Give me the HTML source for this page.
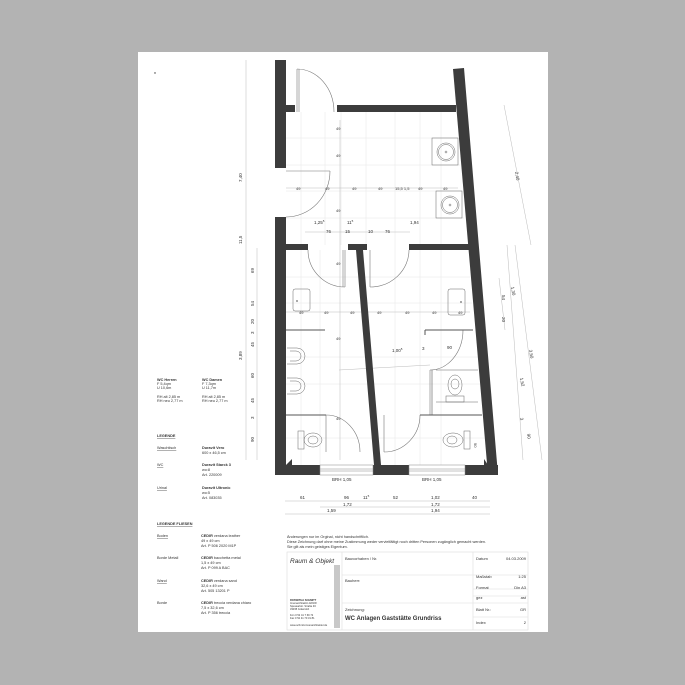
<!DOCTYPE html>
<html><head><meta charset="utf-8"><style>
html,body{margin:0;padding:0;background:#b3b3b3}
svg{display:block}
text{font-family:"Liberation Sans",sans-serif;fill:#333}
</style></head><body>
<svg width="685" height="685" viewBox="0 0 685 685" xmlns="http://www.w3.org/2000/svg">
<rect x="0" y="0" width="685" height="685" fill="#b3b3b3"/>
<rect x="138" y="52" width="410" height="580" fill="#fff"/>
<circle cx="155" cy="73" r="0.7" fill="#333"/>

<!-- tile grid -->
<g stroke="#e6e6e6" stroke-width="0.5">
<line x1="301" y1="112" x2="301" y2="465"/><line x1="325" y1="112" x2="325" y2="245"/>
<line x1="341" y1="112" x2="341" y2="245"/><line x1="366" y1="112" x2="366" y2="245"/>
<line x1="395" y1="112" x2="395" y2="465"/><line x1="420" y1="112" x2="420" y2="465"/>
<line x1="441" y1="112" x2="441" y2="465"/><line x1="320" y1="250" x2="320" y2="465"/>
<line x1="286" y1="138" x2="458" y2="138"/><line x1="286" y1="165" x2="460" y2="165"/>
<line x1="286" y1="191" x2="462" y2="191"/><line x1="286" y1="218" x2="464" y2="218"/>
<line x1="286" y1="277" x2="470" y2="277"/><line x1="286" y1="303" x2="472" y2="303"/>
<line x1="286" y1="357" x2="478" y2="357"/><line x1="286" y1="384" x2="480" y2="384"/>
<line x1="286" y1="438" x2="486" y2="438"/>
</g>
<!-- internal dimension lines -->
<g stroke="#bbb" stroke-width="0.5">
<line x1="286" y1="188" x2="458" y2="188"/>
<line x1="305" y1="232" x2="410" y2="232"/>
<line x1="286" y1="312" x2="470" y2="312"/>
<line x1="339" y1="370" x2="430" y2="365"/>
<line x1="340" y1="120" x2="340" y2="460"/>
</g>
<g font-size="4" fill="#555">
<text x="296" y="190">49</text><text x="325" y="190">49</text><text x="352" y="190">49</text><text x="378" y="190">49</text><text x="395" y="190">15,5 1,5</text><text x="418" y="190">49</text><text x="443" y="190">49</text>
<text x="299" y="314">49</text><text x="324" y="314">49</text><text x="350" y="314">49</text><text x="377" y="314">49</text><text x="405" y="314">49</text><text x="432" y="314">49</text><text x="458" y="314">49</text>
<text x="336" y="130">49</text><text x="336" y="157">49</text><text x="336" y="212">49</text><text x="336" y="265">49</text><text x="336" y="340">49</text><text x="336" y="420">49</text>
</g>
<g font-size="4.5" fill="#333">
<text x="314" y="224">1,25<tspan font-size="3" dy="-2">5</tspan></text>
<text x="347" y="224">11<tspan font-size="3" dy="-2">5</tspan></text>
<text x="410" y="224">1,94</text>
<text x="326" y="233">76</text><text x="345" y="233">15</text><text x="368" y="233">10</text><text x="385" y="233">76</text>
<text x="392" y="352">1,00<tspan font-size="3" dy="-2">5</tspan></text>
<text x="422" y="350">3</text><text x="447" y="349">90</text>
</g>

<!-- walls -->
<g fill="#3c3c3c">
<rect x="275" y="60" width="11" height="108"/>
<rect x="275" y="217" width="11" height="258"/>
<rect x="286" y="105" width="9" height="7"/>
<rect x="337" y="105" width="119" height="7"/>
<polygon points="453,69 464,68 498,475 488,475"/>
<rect x="286" y="244" width="22" height="6"/>
<rect x="348" y="244" width="19" height="6"/>
<rect x="409" y="244" width="62" height="6"/>
<polygon points="356,250 363,250 381,465 374,465"/>
<polygon points="275,465 320,465 320,475 275,475"/>
<polygon points="373,465 409,465 409,475 373,475"/>
<polygon points="465,465 498,465 498,475 465,475"/>
<polygon points="286,465 292,459 292,465"/>
<polygon points="488,465 484,459 484,465"/>
</g>
<!-- windows -->
<g stroke="#888" stroke-width="0.5" fill="none">
<rect x="320" y="465" width="53" height="10"/><line x1="320" y1="469" x2="373" y2="469"/><line x1="320" y1="471" x2="373" y2="471"/>
<rect x="409" y="465" width="56" height="10"/><line x1="409" y1="469" x2="465" y2="469"/><line x1="409" y1="471" x2="465" y2="471"/>
</g>
<text x="332" y="481" font-size="4.5">BRH 1,05</text>
<text x="422" y="481" font-size="4.5">BRH 1,05</text>

<!-- doors -->
<g stroke="#777" stroke-width="0.6" fill="none">
<line x1="297" y1="69" x2="297" y2="112"/><line x1="299" y1="69" x2="299" y2="112"/>
<path d="M297,69 A37,43 0 0 1 334,112"/>
<line x1="286" y1="171" x2="330" y2="171"/>
<path d="M330,171 A44,46 0 0 1 286,217"/>
<line x1="345" y1="250" x2="345" y2="287"/><line x1="343" y1="250" x2="343" y2="287"/>
<path d="M308,250 A37,37 0 0 0 345,287"/>
<line x1="370" y1="250" x2="370" y2="287"/>
<path d="M409,250 A39,37 0 0 1 370,287"/>
<line x1="326" y1="415" x2="326" y2="452"/>
<path d="M326,415 A34,37 0 0 1 360,452"/>
<line x1="384" y1="415" x2="384" y2="452"/>
<path d="M420,415 A36,37 0 0 1 384,452"/>
<line x1="430" y1="370" x2="430" y2="415"/>
<path d="M463,330 A33,40 0 0 1 430,370"/>
</g>
<!-- partitions -->
<g stroke="#555" stroke-width="1" fill="none">
<line x1="286" y1="330" x2="325" y2="330"/>
<line x1="286" y1="415" x2="326" y2="415"/>
<line x1="425" y1="330" x2="473" y2="330"/>
<line x1="425" y1="330" x2="425" y2="335"/>
<line x1="420" y1="415" x2="482" y2="415"/>
<line x1="432" y1="370" x2="432" y2="415" stroke-width="0.6"/>
</g>
<!-- fixtures -->
<g stroke="#666" stroke-width="0.5" fill="none">
<rect x="432" y="138" width="26" height="27"/><circle cx="446" cy="152" r="9"/><circle cx="446" cy="152" r="7.5"/><circle cx="446" cy="152" r="1"/>
<rect x="436" y="191" width="26" height="27"/><circle cx="450" cy="205" r="9"/><circle cx="450" cy="205" r="7.5"/><circle cx="450" cy="205" r="1"/>
<rect x="293" y="289" width="17" height="22" rx="2"/><circle cx="297" cy="301" r="0.8"/>
<rect x="448" y="289" width="17" height="26" rx="2"/><circle cx="461" cy="302" r="0.8"/>
<path d="M287,348 L297,348 A8,8 0 0 1 297,364 L287,364"/><path d="M290,351 L296,351 A5,5 0 0 1 296,361 L290,361"/>
<path d="M287,378 L297,378 A8,8 0 0 1 297,394 L287,394"/><path d="M290,381 L296,381 A5,5 0 0 1 296,391 L290,391"/>
<rect x="298" y="431" width="6" height="18"/><ellipse cx="313" cy="440" rx="9" ry="7"/><ellipse cx="313" cy="440" rx="5" ry="4"/>
<rect x="464" y="431" width="6" height="18"/><ellipse cx="453" cy="440" rx="10" ry="7"/><ellipse cx="452" cy="440" rx="5" ry="4"/>
<rect x="446" y="396" width="18" height="6"/><ellipse cx="455" cy="385" rx="7" ry="10"/><ellipse cx="455" cy="384" rx="4" ry="5"/>
<line x1="436" y1="370" x2="478" y2="370"/><line x1="436" y1="402" x2="478" y2="402"/>
</g>
<text x="474" y="443" font-size="4" transform="rotate(90 474 443)">90</text>

<!-- left dimensions -->
<g stroke="#bbb" stroke-width="0.5">
<line x1="246" y1="60" x2="246" y2="460"/>
<line x1="257" y1="248" x2="257" y2="460"/>
</g>
<g font-size="4.5" fill="#444">
<text x="242" y="182" transform="rotate(-90 242 182)">7,40</text>
<text x="242" y="360" transform="rotate(-90 242 360)">3,89</text>
<text x="242" y="244" transform="rotate(-90 242 244)">11,5</text>
<text x="254" y="273" transform="rotate(-90 254 273)">69</text>
<text x="254" y="306" transform="rotate(-90 254 306)">54</text>
<text x="254" y="324" transform="rotate(-90 254 324)">20</text>
<text x="254" y="334" transform="rotate(-90 254 334)">3</text>
<text x="254" y="347" transform="rotate(-90 254 347)">45</text>
<text x="254" y="378" transform="rotate(-90 254 378)">60</text>
<text x="254" y="403" transform="rotate(-90 254 403)">45</text>
<text x="254" y="419" transform="rotate(-90 254 419)">3</text>
<text x="254" y="442" transform="rotate(-90 254 442)">90</text>
</g>
<!-- right dimensions -->
<g stroke="#bbb" stroke-width="0.5">
<line x1="504" y1="105" x2="531" y2="245"/>
<line x1="515" y1="245" x2="542" y2="460"/>
<line x1="499" y1="278" x2="505" y2="330"/>
<line x1="507" y1="245" x2="523" y2="460"/>
</g>
<g font-size="4.5" fill="#444">
<text x="515" y="172" transform="rotate(80 515 172)">2,40</text>
<text x="511" y="287" transform="rotate(80 511 287)">1,30</text>
<text x="502" y="295" transform="rotate(90 502 295)">54</text>
<text x="502" y="317" transform="rotate(90 502 317)">20</text>
<text x="529" y="350" transform="rotate(80 529 350)">3,50</text>
<text x="520" y="378" transform="rotate(80 520 378)">1,52</text>
<text x="520" y="418" transform="rotate(80 520 418)">3</text>
<text x="527" y="434" transform="rotate(80 527 434)">90</text>
</g>

<!-- bottom dimensions -->
<g stroke="#bbb" stroke-width="0.5">
<line x1="285" y1="501" x2="490" y2="501"/>
<line x1="320" y1="507" x2="490" y2="507"/>
<line x1="285" y1="514" x2="490" y2="514"/>
</g>
<g font-size="4.5" fill="#333">
<text x="300" y="499">61</text><text x="344" y="499">96</text><text x="363" y="499">11<tspan font-size="3" dy="-2">5</tspan></text>
<text x="393" y="499">52</text><text x="431" y="499">1,02</text><text x="472" y="499">40</text>
<text x="343" y="506">1,72</text><text x="431" y="506">1,72</text>
<text x="327" y="512">1,59</text><text x="431" y="512">1,94</text>
</g>

<!-- left texts -->
<g font-size="3.8" fill="#333">
<text x="157" y="381" font-weight="bold">WC Herren</text><text x="157" y="385">F 5,4qm</text><text x="157" y="389">U 10,6m</text>
<text x="157" y="398">RH alt  2,85 m</text><text x="157" y="402">RH neu 2,77 m</text>
<text x="202" y="381" font-weight="bold">WC Damen</text><text x="202" y="385">F 7,3qm</text><text x="202" y="389">U 11,7m</text>
<text x="202" y="398">RH alt  2,85 m</text><text x="202" y="402">RH neu 2,77 m</text>
<text x="157" y="437" font-weight="bold" text-decoration="underline">LEGENDE</text>
<text x="157" y="449" text-decoration="underline">Waschtisch</text>
<text x="202" y="449" font-weight="bold">Duravit Vero</text><text x="202" y="454">600 x 46,5 cm</text>
<text x="157" y="466" text-decoration="underline">WC</text>
<text x="202" y="466" font-weight="bold">Duravit Starck 3</text><text x="202" y="471">wo:8</text><text x="202" y="476">Art. 220009</text>
<text x="157" y="489" text-decoration="underline">Urinal</text>
<text x="202" y="489" font-weight="bold">Duravit Ultronic</text><text x="202" y="494">wo:5</text><text x="202" y="499">Art. 083035</text>
<text x="157" y="525" font-weight="bold" text-decoration="underline">LEGENDE FLIESEN</text>
<text x="157" y="537" text-decoration="underline">Boden</text>
<text x="201" y="537"><tspan font-weight="bold">CEDIR</tspan> verdana leather</text><text x="201" y="542">49 x 49 cm</text><text x="201" y="547">Art. P 506 2020 M1P</text>
<text x="157" y="559">Borde Metall</text>
<text x="201" y="559"><tspan font-weight="bold">CEDIR</tspan> bacchetta metal</text><text x="201" y="564">1,5 x 49 cm</text><text x="201" y="569">Art. P 099 A BAC</text>
<text x="157" y="582" text-decoration="underline">Wand</text>
<text x="201" y="582"><tspan font-weight="bold">CEDIR</tspan> verdana sand</text><text x="201" y="587">32,6 x 49 cm</text><text x="201" y="592">Art. 505 13201 P</text>
<text x="157" y="604">Borde</text>
<text x="201" y="604"><tspan font-weight="bold">CEDIR</tspan> treccia verdana chiaro</text><text x="201" y="609">7,5 x 32,6 cm</text><text x="201" y="614">Art. P 356 treccia</text>
</g>

<!-- title block -->
<g font-size="3.8" fill="#333">
<text x="287" y="538">Änderungen nur im Orginal, nicht handschriftlich.</text>
<text x="287" y="543">Diese Zeichnung darf ohne meine Zustimmung weder vervielfältigt noch dritten Personen zugänglich gemacht werden.</text>
<text x="287" y="548">Sie gilt als mein geistiges Eigentum.</text>
</g>
<g stroke="#ddd" stroke-width="0.6" fill="none">
<rect x="287" y="552" width="241" height="78"/>
<line x1="342" y1="552" x2="342" y2="630"/>
<line x1="473" y1="552" x2="473" y2="630"/>
<line x1="342" y1="575" x2="528" y2="575"/>
<line x1="342" y1="603" x2="528" y2="603"/>
<line x1="473" y1="589" x2="528" y2="589"/>
<line x1="473" y1="596" x2="528" y2="596"/>
<line x1="473" y1="617" x2="528" y2="617"/>
</g>
<rect x="334" y="565" width="6" height="63" fill="#c8c8c8"/>
<text x="290" y="563" font-size="6.5" font-style="italic" fill="#333">Raum &amp; Objekt</text>
<g font-size="2.6" fill="#444">
<text x="290" y="601" font-weight="bold">ROSWITHA SCHMITT</text><text x="290" y="604">Innenarchitektin AKNW</text><text x="290" y="607">Spessartstr. Straße 46</text><text x="290" y="610">33335 Gütersloh</text>
<text x="290" y="616">Fon 0 52 41 7 69 72</text><text x="290" y="619">Fax 0 52 41 70 31 81</text><text x="290" y="626">www.schmitt-innenarchitektur.de</text>
</g>
<g font-size="4" fill="#333">
<text x="345" y="560">Bauvorhaben / Nr.</text>
<text x="345" y="582">Bauherr:</text>
<text x="345" y="611">Zeichnung:</text>
<text x="345" y="620" font-size="6" font-weight="bold">WC Anlagen Gaststätte Grundriss</text>
<text x="476" y="560">Datum</text><text x="526" y="560" text-anchor="end">04.03.2009</text>
<text x="476" y="578">Maßstab</text><text x="526" y="578" text-anchor="end">1:25</text>
<text x="476" y="589">Format</text><text x="526" y="589" text-anchor="end">Din A3</text>
<text x="476" y="599">gez</text><text x="526" y="599" text-anchor="end">ast</text>
<text x="476" y="611">Blatt Nr.:</text><text x="526" y="611" text-anchor="end">GR</text>
<text x="476" y="624">Index</text><text x="526" y="624" text-anchor="end">2</text>
</g>
</svg>
</body></html>
